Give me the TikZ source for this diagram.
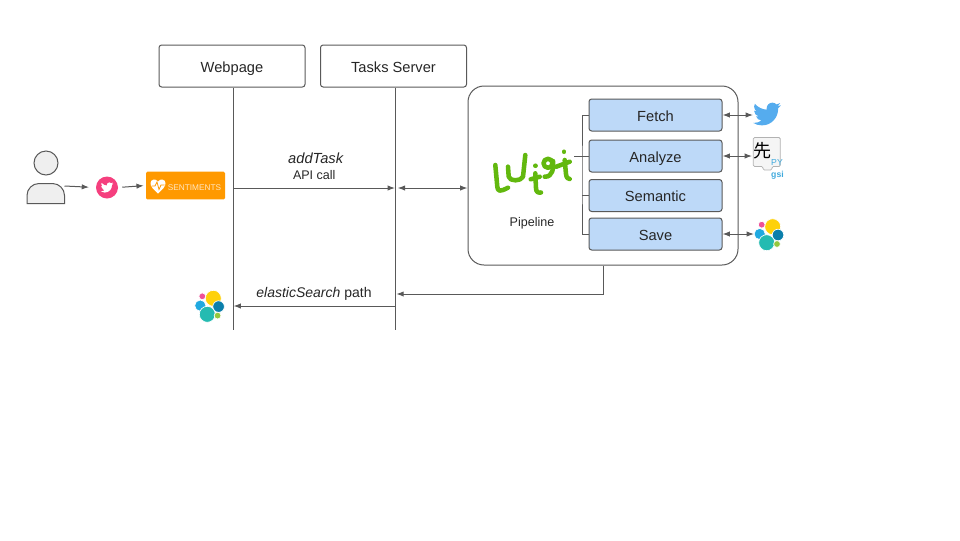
\documentclass[tikz,border=0pt]{standalone}
\usepackage{fontspec}
\setmainfont{Liberation Sans}
\newfontfamily\cjkfont{Noto Sans CJK SC}
\usetikzlibrary{arrows.meta}
\definecolor{linegray}{HTML}{595959}
\definecolor{taskblue}{HTML}{BDD9F8}
\definecolor{personfill}{HTML}{EFEFEF}
\definecolor{twitblue}{HTML}{55ACEE}
\definecolor{twitpink}{HTML}{F53F7E}
\definecolor{luigigreen}{HTML}{62B80E}
\definecolor{gsiblue}{HTML}{3FA9DC}
\definecolor{esyellow}{HTML}{FED10A}
\definecolor{esteal}{HTML}{24BBB1}
\definecolor{esblue}{HTML}{20A9E0}
\definecolor{esdark}{HTML}{0B7FAB}
\definecolor{espink}{HTML}{EF5098}
\definecolor{esgreen}{HTML}{93C83E}
\definecolor{sentorange}{HTML}{FF9900}
\tikzset{>={Latex[length=5.5pt,width=4pt]}}
\tikzset{%
  pics/bird/.style={code={
    \fill [#1, shift={(-12,-12)}] (23.95,4.57) .. controls (23.1,4.95) and (22.1,5.2) .. (21.13,5.35)
      .. controls (22.15,4.7) and (22.9,3.75) .. (23.29,2.62)
      .. controls (22.34,3.18) and (21.29,3.58) .. (20.16,3.8)
      .. controls (19.27,2.85) and (18,2.25) .. (16.6,2.25)
      .. controls (13.9,2.25) and (11.68,4.45) .. (11.68,7.17)
      .. controls (11.68,7.55) and (11.72,7.93) .. (11.8,8.3)
      .. controls (7.69,8.09) and (4.07,6.13) .. (1.64,3.16)
      .. controls (1.22,3.88) and (.97,4.73) .. (.97,5.64)
      .. controls (.97,7.35) and (1.84,8.85) .. (3.16,9.73)
      .. controls (2.36,9.7) and (1.6,9.49) .. (.93,9.12)
      -- (.93,9.18)
      .. controls (.93,11.56) and (2.62,13.55) .. (4.88,14)
      .. controls (4.17,14.2) and (3.41,14.23) .. (2.66,14.09)
      .. controls (3.3,16.05) and (5.1,17.46) .. (7.27,17.5)
      .. controls (5.58,18.82) and (3.45,19.61) .. (1.17,19.61)
      .. controls (.78,19.61) and (.39,19.58) .. (0,19.54)
      .. controls (2.19,20.94) and (4.78,21.75) .. (7.56,21.75)
      .. controls (16.61,21.75) and (21.55,14.25) .. (21.55,7.77)
      .. controls (21.55,7.56) and (21.55,7.35) .. (21.54,7.14)
      .. controls (22.5,6.44) and (23.34,5.58) .. (23.95,4.59) -- cycle;
  }},
  pics/elastic/.style={code={
    \filldraw [draw=white, line width=.5pt, fill=esyellow] (5.7,-8.3) circle (8);
    \filldraw [draw=white, line width=.5pt, fill=esdark] (11,0) circle (5.8);
    \filldraw [draw=white, line width=.5pt, fill=esblue] (-7.3,-1) circle (5.6);
    \filldraw [draw=white, line width=.5pt, fill=esteal] (-.3,7.7) circle (8);
    \filldraw [draw=white, line width=.5pt, fill=espink] (-5.3,-10.3) circle (3.4);
    \filldraw [draw=white, line width=.5pt, fill=esgreen] (10,9) circle (3.4);
  }}
}
\begin{document}
\begin{tikzpicture}[x=.75pt, y=-.75pt, font=\fontsize{11}{13}\selectfont, text=black!85, text height=2ex, text depth=.25ex]
    \tikzset{%
      conn/.style={draw=linegray, line width=.75pt},
      seqbox/.style={draw=linegray, line width=.75pt, rounded corners=2pt, minimum width=109.5pt, minimum height=31.5pt, inner sep=0pt},
      taskbox/.style={draw=linegray, line width=.75pt, fill=taskblue, rounded corners=2pt, minimum width=99.75pt, minimum height=24pt, inner sep=0pt},
      luigistroke/.style={draw=luigigreen, line width=3.4pt, line cap=round, line join=round},
      smalltext/.style={font=\fontsize{9.4}{11}\selectfont}
      }
    \useasboundingbox (0,0) rectangle (960,540);

    \node [seqbox] (webpage) at (232,66) {Webpage};
    \node [seqbox] (tasks) at (393.5,66) {Tasks Server};
    \coordinate (webEnd) at (233.5,330);
    \coordinate (tasksEnd) at (395,330);
    \draw [conn] (webpage.south -| webEnd) -- (webEnd);
    \draw [conn] (tasks.south -| tasksEnd) -- (tasksEnd);

    \node [draw=linegray, line width=.75pt, rounded corners=12pt, minimum width=202.5pt, minimum height=134.25pt, inner sep=0pt] (pipe) at (603,175.5) {};
    \node [taskbox] (fetch) at (655.5,115) {Fetch};
    \node [taskbox] (analyze) at (655.5,156) {Analyze};
    \node [taskbox] (semantic) at (655.5,195.5) {Semantic};
    \node [taskbox] (save) at (655.5,234) {Save};
    \node [smalltext] (pipeline) at (532,220) {Pipeline};

    % task bus
    \coordinate (busX) at (582,175);
    \coordinate (luigi) at (574,156);
    \draw [conn] (fetch.west) -| (busX) |- (save.west);
    \draw [conn] (luigi) -- (analyze.west);
    \draw [conn] (busX |- semantic.west) -- (semantic.west);

    % luigi logo
    \draw [luigistroke] (495.3,165) -- (497.3,186.7) .. controls (497.8,191.5) and (499.7,192) .. (508,187.7);
    \draw [luigistroke] (508,166.7) -- (508.7,176.7) .. controls (509.5,181.5) and (521,181.5) .. (523,176.7) -- (525.3,155);
    \draw [luigistroke] (535.3,173.3) -- (536,188) .. controls (536,192) and (538,193) .. (541,192.5);
    \draw [luigistroke] (530.7,179.3) -- (539.7,176.7);
    \draw [luigistroke] (535.3,165.7) -- (535.3,165.8);
    \draw [luigistroke] (548,163.3) circle (4.5);
    \draw [luigistroke] (553,161) .. controls (553.5,168) and (553,177) .. (544.7,176.7);
    \draw [luigistroke] (564.7,160) -- (566,174) .. controls (566.5,178) and (568,179) .. (569.7,179);
    \draw [luigistroke] (556.3,166.7) -- (569.7,161.7);
    \draw [luigistroke] (564,151.7) -- (564,151.8);

    % user side
    \node [circle, draw=linegray, line width=.75pt, fill=personfill, minimum size=18pt, inner sep=0pt] (head) at (46,163) {};
    \draw [draw=linegray, line width=.75pt, fill=personfill] (27,203.5) [rounded corners=9pt] -- (27,183.5) -- (64.5,183.5) [sharp corners] -- (64.5,203.5) -- cycle;
    \coordinate (user) at (64.5,186);
    \node [circle, fill=twitpink, minimum size=16.5pt, inner sep=0pt] (twitbadge) at (107,187.5) {};
    \pic [scale=.52] at (107,187.5) {bird=white};
    \node [fill=sentorange, rounded corners=1pt, minimum width=59.25pt, minimum height=20.75pt, inner sep=0pt] (sentiments) at (185.5,185.5) {};
    \fill [white] (158,193.5) .. controls (153,189) and (150.5,186.5) .. (150.5,183) .. controls (150.5,179.5) and (155.5,178) .. (158,181.5) .. controls (160.5,178) and (165.5,179.5) .. (165.5,183) .. controls (165.5,186.5) and (163,189) .. (158,193.5) -- cycle;
    \draw [sentorange, line width=.6pt] (151.5,186) -- (155,186) -- (157,182) -- (159,189.5) -- (161,185) -- (164.5,185);
    \node [text=white!75!sentorange, font=\fontsize{6.2}{7}\selectfont, inner sep=0pt] (sentimentsText) at (194.5,184.5) {SENTIMENTS};
    \draw [conn, ->, shorten >=5pt] (user) -- (twitbadge.west);
    \draw [conn, ->, shorten <=3pt, shorten >=1.5pt] (twitbadge.east) -- (sentiments.west);

    % calls
    \coordinate (callY) at (0,188);
    \coordinate (retY) at (0,294);
    \coordinate (pathY) at (0,306);
    \draw [conn, ->] (webEnd |- callY) -- node [pos=.5, above=1pt, smalltext] (apicall) {API call} (tasksEnd |- callY);
    \node (addtask) at (316,157) {\textit{addTask}};
    \draw [conn, <->] ([xshift=2pt]tasksEnd |- callY) -- (pipe.west |- callY);
    \draw [conn, ->] (pipe.south) |- ([xshift=1pt]tasksEnd |- retY);
    \draw [conn, ->] (tasksEnd |- pathY) -- (webEnd |- pathY);
    \node [font=\fontsize{10.5}{12}\selectfont] (esPath) at (314,291) {\textit{elasticSearch} path};
    \pic at (207.6,306.6) {elastic};

    % tools
    \coordinate (twitIcon) at (753,115);
    \coordinate (gsiIcon) at (752,156);
    \coordinate (esIcon) at (754,234);
    \pic [scale=1.167] at (767,114) {bird=twitblue};
    \draw [conn, <->] (fetch.east) -- (twitIcon);
    \draw [draw=black!30, line width=.6pt, fill=black!4, rounded corners=1pt] (753.3,137.5) -- (780.3,137.5) -- (780.3,166.5) -- (772,166.5) -- (772,170) -- (763,170) -- (763,166.5) -- (753.3,166.5) -- cycle;
    \node [inner sep=0pt, font=\cjkfont\fontsize{13.5}{14}\selectfont, text=black] (xian) at (762,151) {先};
    \node [inner sep=0pt, font=\fontsize{6.5}{7}\selectfont, text=gsiblue] (py) at (777,159) {PY};
    \node [inner sep=0pt, font=\fontsize{6.5}{7}\selectfont\bfseries, text=gsiblue] (gsi) at (777.5,171) {gsi};
    \draw [conn, <->] (analyze.east) -- (gsiIcon);
    \pic at (767,235) {elastic};
    \draw [conn, <->] (save.east) -- (esIcon);
\end{tikzpicture}
\end{document}
